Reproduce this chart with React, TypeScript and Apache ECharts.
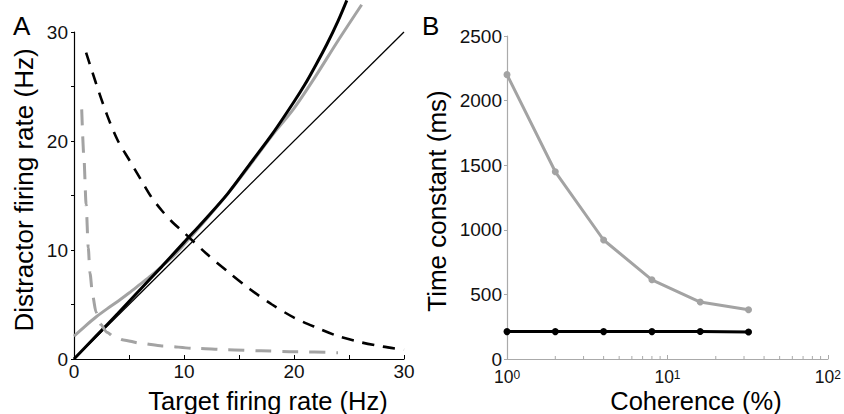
import React, { useEffect, useRef } from "react";
import * as echarts from "echarts";

// Panel A data (Hz)
const diagX = [0, 30];
const diagY = [0, 30];
const blackX = [0, 2, 4, 6, 8, 10, 12, 14, 16, 18, 20, 21, 22, 23, 24, 24.8];
const blackY = [0, 2.1, 4.2, 6.35, 8.5, 10.7, 12.9, 15.2, 17.9, 20.6, 23.6, 25.2, 27.0, 28.9, 31.0, 32.9];
const grayX = [0, 1, 2, 3, 4, 5, 6, 7, 8, 9, 10, 12, 14, 16, 18, 20, 22, 24, 26.15];
const grayY = [2.1, 3.0, 3.85, 4.6, 5.3, 6.05, 6.85, 7.65, 8.5, 9.4, 10.5, 12.8, 15.2, 17.8, 20.5, 23.0, 26.0, 29.2, 32.5];
const blackDashX = [1.1, 2, 3, 4, 5, 6, 7, 8, 9, 10, 12, 14, 16, 18, 20, 22, 24, 26, 28, 30];
const blackDashY = [28.1, 25.3, 22.4, 20.0, 18.3, 16.6, 14.9, 13.6, 12.5, 11.6, 9.7, 8.0, 6.4, 5.0, 3.8, 2.9, 2.1, 1.55, 1.15, 0.85];
const grayDashX = [0.7, 0.9, 1.1, 1.3, 1.45, 1.7, 2.0, 2.4, 3.0, 3.6, 4.5, 6, 8, 11, 14, 17, 20, 24];
const grayDashY = [22.9, 18.5, 14.2, 10.2, 7.9, 5.8, 4.3, 3.2, 2.45, 2.05, 1.75, 1.45, 1.2, 0.98, 0.85, 0.75, 0.67, 0.58];

// Panel B data
const coherence = [1, 2, 4, 8, 16, 32];
const tauGray = [2201, 1449, 921, 613, 441, 381];
const tauBlack = [212, 212, 212, 212, 213, 209];
const logMinorTicks = [2, 3, 4, 5, 6, 7, 8, 9, 20, 30, 40, 50, 60, 70, 80, 90];

const zip = (xs: number[], ys: number[]) => xs.map((x, i) => [x, ys[i]]);

const FONT = "Liberation Sans, Arial, sans-serif";
const GRAY = "#a3a3a3";
const AXGRAY = "#aaaaaa";

export default function App() {
  const ref = useRef<HTMLDivElement>(null);
  useEffect(() => {
    if (!ref.current) return;
    const chart = echarts.init(ref.current, null, { renderer: "svg" });
    const labelA = { fontSize: 19, color: "#111", fontFamily: FONT };
    const title = { fontSize: 26, fill: "#000", fontFamily: FONT, textAlign: "center", textVerticalAlign: "middle" };
    const titleX = { ...title, fontSize: 25.5 };
    const option: any = {
      animation: false,
      backgroundColor: "#fff",
      textStyle: { fontFamily: FONT },
      grid: [
        { left: 74, top: 32, width: 330, height: 327 },
        { left: 507, top: 36, width: 322, height: 323 },
      ],
      xAxis: [
        {
          gridIndex: 0, type: "value", min: 0, max: 30, interval: 5,
          axisLine: { lineStyle: { color: "#000", width: 1.2 } },
          axisTick: { inside: true, length: 4, lineStyle: { color: "#000" } },
          splitLine: { show: false },
          axisLabel: { ...labelA, margin: 3, formatter: (v: number) => (v % 10 === 0 ? String(v) : "") },
        },
        {
          gridIndex: 1, type: "log", logBase: 10, min: 1, max: 100,
          axisLine: { lineStyle: { color: AXGRAY, width: 1.2 } },
          axisTick: { inside: true, length: 4, lineStyle: { color: AXGRAY } },
          splitLine: { show: false },
          axisLabel: {
            margin: 10,
            formatter: (v: number) => "{b|10}{s|" + Math.round(Math.log10(v)) + "}",
            rich: {
              b: { fontSize: 17.5, lineHeight: 16, color: "#111", fontFamily: FONT },
              s: { fontSize: 12, lineHeight: 12, color: "#111", fontFamily: FONT, padding: [0, 0, 4, 0] },
            },
          },
        },
      ],
      yAxis: [
        {
          gridIndex: 0, type: "value", min: 0, max: 30, interval: 5,
          axisLine: { show: true, lineStyle: { color: "#000", width: 1.2 } },
          axisTick: { show: true, inside: false, length: 3, lineStyle: { color: "#000" } },
          splitLine: { show: false },
          axisLabel: { ...labelA, margin: 6, formatter: (v: number) => (v % 10 === 0 ? String(v) : "") },
        },
        {
          gridIndex: 1, type: "value", min: 0, max: 2500, interval: 500,
          axisLine: { show: true, lineStyle: { color: AXGRAY, width: 1.2 } },
          axisTick: { show: true, inside: false, length: 3, lineStyle: { color: AXGRAY } },
          splitLine: { show: false },
          axisLabel: { ...labelA, margin: 5, formatter: (v: number) => String(v) },
        },
      ],
      series: [
        {
          type: "line", xAxisIndex: 0, yAxisIndex: 0, data: zip(grayX, grayY), clip: false,
          showSymbol: false, smooth: 0.3, lineStyle: { color: GRAY, width: 3 }, z: 2,
        },
        {
          type: "line", xAxisIndex: 0, yAxisIndex: 0, data: zip(blackX, blackY), clip: false,
          showSymbol: false, smooth: 0.3, lineStyle: { color: "#000", width: 3 }, z: 3,
        },
        {
          type: "line", xAxisIndex: 0, yAxisIndex: 0, data: zip(diagX, diagY), clip: false,
          showSymbol: false, lineStyle: { color: "#000", width: 1.3 }, z: 3,
        },
        {
          type: "line", xAxisIndex: 0, yAxisIndex: 0, data: zip(blackDashX, blackDashY), clip: false,
          showSymbol: false, smooth: 0.3, lineStyle: { color: "#000", width: 2.6, type: [12, 9] }, z: 4,
        },
        {
          type: "line", xAxisIndex: 0, yAxisIndex: 0, data: zip(grayDashX, grayDashY), clip: false,
          showSymbol: false, smooth: 0.25, smoothMonotone: "x",
          lineStyle: { color: GRAY, width: 3, type: [16, 11] }, z: 4,
        },
        {
          type: "line", xAxisIndex: 1, yAxisIndex: 1, data: zip(coherence, tauGray),
          symbol: "circle", symbolSize: 7, itemStyle: { color: GRAY },
          lineStyle: { color: GRAY, width: 3 }, z: 3,
        },
        {
          type: "line", xAxisIndex: 1, yAxisIndex: 1, data: zip(coherence, tauBlack),
          symbol: "circle", symbolSize: 7, itemStyle: { color: "#000" },
          lineStyle: { color: "#000", width: 3 }, z: 3,
        },
        {
          type: "custom", xAxisIndex: 1, yAxisIndex: 1, coordinateSystem: "cartesian2d",
          data: logMinorTicks.map((v) => [v, 0]),
          encode: { x: 0, y: 1 },
          renderItem: (params: any, api: any) => {
            const p = api.coord([api.value(0), 0]);
            return {
              type: "line",
              shape: { x1: p[0], y1: p[1], x2: p[0], y2: p[1] - 3 },
              style: { stroke: AXGRAY, lineWidth: 1 },
            };
          },
          silent: true, z: 1,
        },
      ],
      graphic: [
        { type: "text", x: 13, y: 26, style: { text: "A", fontSize: 26, fill: "#000", fontFamily: FONT, textAlign: "left", textVerticalAlign: "middle" } },
        { type: "text", x: 422, y: 26, style: { text: "B", fontSize: 26, fill: "#000", fontFamily: FONT, textAlign: "left", textVerticalAlign: "middle" } },
        { type: "text", x: 268, y: 401, style: { text: "Target firing rate (Hz)", ...titleX } },
        { type: "text", x: 696, y: 401, style: { text: "Coherence (%)", ...titleX } },
        { type: "text", x: 24, y: 190, rotation: Math.PI / 2, style: { text: "Distractor firing rate (Hz)", ...title } },
        { type: "text", x: 437, y: 201, rotation: Math.PI / 2, style: { text: "Time constant (ms)", ...title } },
      ],
    };
    chart.setOption(option);
    return () => chart.dispose();
  }, []);
  return <div ref={ref} style={{ position: "absolute", left: 0, top: 0, width: 844, height: 414 }} />;
}
